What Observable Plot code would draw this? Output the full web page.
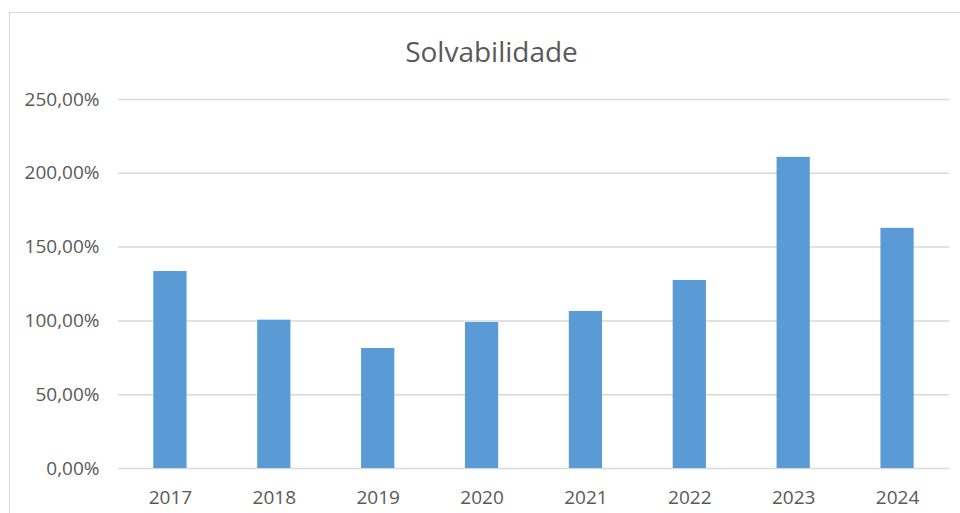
<!DOCTYPE html>
<html>
<head>
<meta charset="utf-8">
<script src="https://cdn.jsdelivr.net/npm/d3@7"></script>
<script src="https://cdn.jsdelivr.net/npm/@observablehq/plot@0.6"></script>
<style>
  html, body { margin: 0; padding: 0; background: #fff; }
  body { width: 960px; height: 513px; position: relative; overflow: hidden; font-family: "Open Sans", sans-serif; }
  #frame { position: absolute; left: 9px; top: 12px; width: 2000px; height: 2000px; border-left: 1.5px solid #d9d9d9; border-top: 1.5px solid #d9d9d9; pointer-events: none; }
  #titlebox { height: 80px; position: relative; }
  #title { position: absolute; left: 0; top: 37px; width: 960px; box-sizing: border-box; padding-left: 23px; line-height: 28px; text-align: center; font-size: 28px; color: #595959; }
  #chart { display: block; }
</style>
</head>
<body>
<div id="frame"></div>
<div id="titlebox"><div id="title">Solvabilidade</div></div>
<div id="chart"></div>
<script>
const years = ["2017", "2018", "2019", "2020", "2021", "2022", "2023", "2024"];
const values = [133.5, 100.5, 81.3, 98.9, 106.4, 127.4, 210.8, 162.7];
const yTicks = [0, 50, 100, 150, 200, 250];

const data = years.map((y, i) => ({year: y, value: values[i]}));
const fmt = d => d.toFixed(2).replace(".", ",") + "%";

const chart = Plot.plot({
  width: 960,
  height: 433,
  marginTop: 19,
  marginBottom: 45,
  marginLeft: 118,
  marginRight: 11,
  style: {fontFamily: "'Open Sans', sans-serif", fontSize: "19px", color: "#595959", background: "#fff"},
  x: {domain: years, paddingInner: 0.68, paddingOuter: 0.34, round: false, label: null},
  y: {domain: [0, 250], label: null},
  marks: [
    Plot.gridY(yTicks, {stroke: "#d9d9d9", strokeOpacity: 1, strokeWidth: 1.5}),
    Plot.barY(data, {x: "year", y: "value", fill: "#5b9bd5"}),
    Plot.axisY(yTicks, {tickSize: 0, tickPadding: 19, tickFormat: fmt, fill: "#595959", fontSize: 19}),
    Plot.axisX({tickSize: 0, tickPadding: 22, fill: "#595959", fontSize: 19})
  ]
});
document.getElementById("chart").appendChild(chart);
</script>
</body>
</html>
